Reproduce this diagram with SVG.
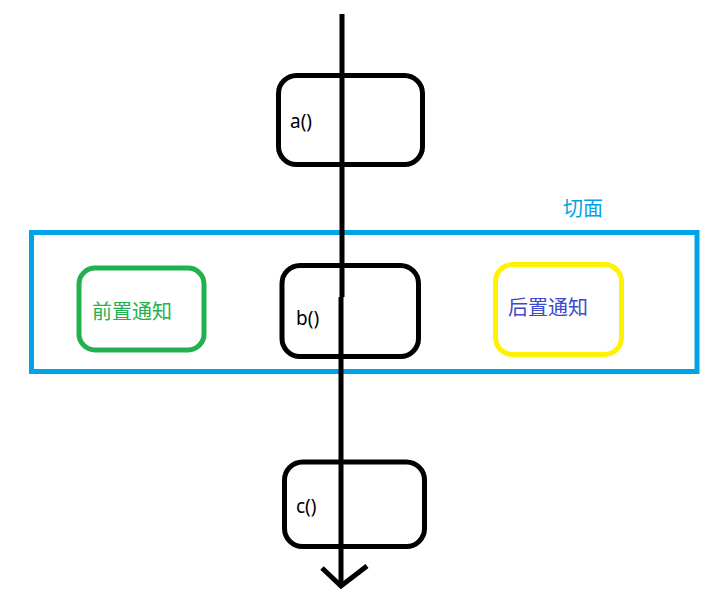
<svg xmlns="http://www.w3.org/2000/svg" width="716" height="593" viewBox="0 0 716 593">
<style>
.box{fill:none;stroke:#000;stroke-width:5}
.fn{font-family:"Noto Sans","Liberation Sans",sans-serif;font-size:19px;fill:#000}
.cjk{font-family:"Noto Sans CJK SC","Noto Sans",sans-serif;font-size:20px}
.ln{fill:none;stroke:#000;stroke-width:5;stroke-linecap:butt}
</style>
<rect width="716" height="593" fill="#fff"/>
<g id="aspect">
<rect x="31.5" y="232.5" width="665.5" height="139" fill="none" stroke="#00A2E8" stroke-width="5"/>
<text class="cjk" x="563" y="216" fill="#00A2E8">切面</text>
</g>
<g id="before">
<rect x="79" y="268" width="125" height="82" rx="16" fill="none" stroke="#22B14C" stroke-width="5"/>
<text class="cjk" x="92" y="319" fill="#22B14C">前置通知</text>
</g>
<g id="after">
<rect x="495.5" y="264.5" width="126" height="90" rx="17" fill="none" stroke="#FFF200" stroke-width="5"/>
<text class="cjk" x="508" y="315" fill="#3F48CC">后置通知</text>
</g>
<g id="a">
<rect class="box" x="278.5" y="75.5" width="144" height="89" rx="18"/>
<text class="fn" x="290" y="128">a()</text>
</g>
<g id="b">
<rect class="box" x="282" y="265.5" width="136.5" height="91" rx="18"/>
<text class="fn" x="296" y="325">b()</text>
</g>
<g id="c">
<rect class="box" x="284.5" y="462" width="140" height="84.5" rx="18"/>
<text class="fn" x="296" y="513">c()</text>
</g>
<g id="connectors">
<path class="ln" d="M342 14 V297"/>
<path class="ln" d="M341 297 V586"/>
<path class="ln" d="M322 568 L341 586 L367 566"/>
</g>
</svg>
